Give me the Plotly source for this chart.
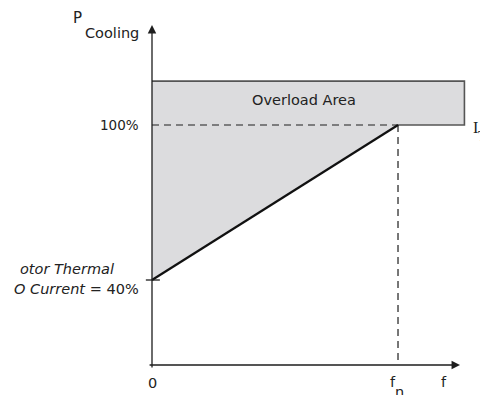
import plotly.graph_objects as go

# ---- data (relative frequency f/fn, cooling power in %) ----
knee_freq = [0.0, 1.0]          # 0 and fn
knee_power = [40, 100]          # motor thermal protection current -> 100 %
overload_ceiling = 117          # top of overload area (%)
overload_freq_end = 1.27        # right edge of overload area (in fn units)
axis_base = 7.1                 # level of the frequency axis (%)
axis_top = 138.7                # tip of the power axis arrow (%)
axis_freq_end = 1.252           # tip of the frequency axis arrow

FONT = "DejaVu Sans"
AX = "#1e1e1e"

fig = go.Figure()

# shaded overload polygon
poly_x = [knee_freq[0], knee_freq[0], overload_freq_end, overload_freq_end, knee_freq[1], knee_freq[0]]
poly_y = [knee_power[0], overload_ceiling, overload_ceiling, knee_power[1], knee_power[1], knee_power[0]]
fig.add_trace(go.Scatter(x=poly_x, y=poly_y, fill="toself", fillcolor="#dcdcde",
                         line=dict(width=0), mode="lines", hoverinfo="skip"))

# overload rectangle border (top, right, bottom right part)
fig.add_trace(go.Scatter(x=[knee_freq[0], overload_freq_end, overload_freq_end, knee_freq[1]],
                         y=[overload_ceiling, overload_ceiling, knee_power[1], knee_power[1]],
                         mode="lines", line=dict(color="#555555", width=1.6), hoverinfo="skip"))

# dashed guide lines at 100 % and fn
fig.add_trace(go.Scatter(x=[knee_freq[0], knee_freq[1]], y=[knee_power[1], knee_power[1]],
                         mode="lines", line=dict(color=AX, width=1.2, dash="7px,5px"), hoverinfo="skip"))
fig.add_trace(go.Scatter(x=[knee_freq[1], knee_freq[1]], y=[knee_power[1], axis_base],
                         mode="lines", line=dict(color=AX, width=1.2, dash="7px,5px"), hoverinfo="skip"))

# main derating line
fig.add_trace(go.Scatter(x=knee_freq, y=knee_power, mode="lines",
                         line=dict(color="#111111", width=2.2), hoverinfo="skip"))

# 40 % tick
fig.add_trace(go.Scatter(x=[-0.025, 0.032], y=[knee_power[0], knee_power[0]], mode="lines",
                         line=dict(color=AX, width=1.3), hoverinfo="skip"))

# axes as arrows
fig.add_annotation(x=0, y=axis_top, ax=0, ay=5.5, xref="x", yref="y", axref="x", ayref="y",
                   showarrow=True, arrowhead=2, arrowsize=1.3, arrowwidth=1.3, arrowcolor=AX, text="")
fig.add_annotation(x=axis_freq_end, y=axis_base, ax=-0.016, ay=axis_base, xref="x", yref="y",
                   axref="x", ayref="y", showarrow=True, arrowhead=2, arrowsize=1.3,
                   arrowwidth=1.3, arrowcolor=AX, text="")

def label(x, y, text, size=14.5, xanchor="center", family=FONT, color="#222222"):
    fig.add_annotation(x=x, y=y, text=text, showarrow=False, xanchor=xanchor, yanchor="middle",
                       font=dict(family=family, size=size, color=color))

label(-0.301, 141.4, "P", size=15)
label(-0.2805, 135.6, "Cooling", xanchor="left")
label(-0.045, 100, "100%", xanchor="right", size=13.5)
label(0.40, 109.7, "Overload Area", xanchor="left")
label(1.295, 99.2, "I", xanchor="left", family="Liberation Serif", size=16)
label(1.315, 95.4, "T", xanchor="left", family="Liberation Serif", size=14)
label(-0.545, 44.3, "<i>otor Thermal</i>", xanchor="left")
label(-0.57, 36.5, "<i>O Current</i> = 40%", xanchor="left")
label(0.0, 0.3, "0")
label(0.98, 0.5, "f")
label(1.008, -3.2, "n")
label(1.187, 0.5, "f")

fig.update_layout(
    width=480, height=395,
    margin=dict(l=0, r=0, t=0, b=0),
    paper_bgcolor="white", plot_bgcolor="white",
    showlegend=False,
    xaxis=dict(range=[-0.6179, 1.3333], visible=False, fixedrange=True),
    yaxis=dict(range=[-4.52, 148.39], visible=False, fixedrange=True),
)

fig.write_html("out.html", config={"staticPlot": True},
               post_script="document.body.style.margin='0';document.body.style.overflow='hidden';")
